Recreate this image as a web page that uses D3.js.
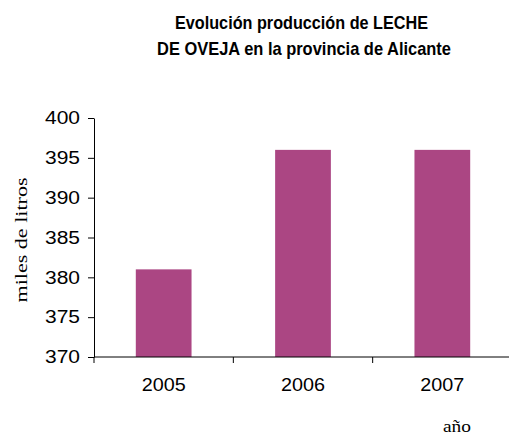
<!DOCTYPE html>
<html>
<head>
<meta charset="utf-8">
<script src="https://cdn.jsdelivr.net/npm/d3@7"></script>
<style>
  body { margin: 0; background: #fff; }
  svg { display: block; }
</style>
</head>
<body>
<div id="chart"></div>
<script>
// data
var years = ["2005", "2006", "2007"];
var litros = [381, 396, 396];
var yTicks = [370, 375, 380, 385, 390, 395, 400];

var margin = {top: 118, right: 0, bottom: 80, left: 94},
    width = 512 - margin.left - margin.right,
    height = 437 - margin.top - margin.bottom;

var svg = d3.select("#chart")
  .append("svg")
    .attr("width", 509)
    .attr("height", 437);

var g = svg.append("g")
    .attr("transform", "translate(" + margin.left + "," + margin.top + ")");

var x = d3.scaleBand()
  .domain(years)
  .range([0, width])
  .paddingInner(0.6)
  .paddingOuter(0.3);

var y = d3.scaleLinear()
  .domain([370, 400])
  .range([239, 0]);

// bars
g.selectAll("rect")
  .data(years)
  .enter()
  .append("rect")
    .attr("x", function(d) { return x(d); })
    .attr("y", function(d, i) { return y(litros[i]); })
    .attr("width", x.bandwidth())
    .attr("height", function(d, i) { return y(370) - y(litros[i]); })
    .style("fill", "#ab4683");

// y axis
var yAxis = g.append("g")
  .call(d3.axisLeft(y).tickValues(yTicks).tickSize(6).tickPadding(8).tickSizeOuter(0));
yAxis.selectAll("text")
  .attr("textLength", 35)
  .attr("lengthAdjust", "spacingAndGlyphs")
  .style("font-family", "Liberation Sans, Arial, sans-serif")
  .style("font-size", "18px")
  .style("fill", "#000");

// x axis
var xPos = d3.scaleLinear().domain([0, 3]).range([0, width]);
var xAxisG = g.append("g")
  .attr("transform", "translate(0," + y(370) + ")");
xAxisG.append("line")
  .attr("x1", 0).attr("x2", width)
  .attr("stroke", "#000");
xAxisG.selectAll(".tk")
  .data([0, 1, 2])
  .enter()
  .append("line")
    .attr("x1", function(d) { return xPos(d); })
    .attr("x2", function(d) { return xPos(d); })
    .attr("y1", 0).attr("y2", 6)
    .attr("stroke", "#000");
xAxisG.selectAll(".lbl")
  .data(years)
  .enter()
  .append("text")
    .attr("x", function(d) { return x(d) + x.bandwidth() / 2; })
    .attr("y", 34)
    .attr("text-anchor", "middle")
    .attr("textLength", 44)
    .attr("lengthAdjust", "spacingAndGlyphs")
    .style("font-family", "Liberation Sans, Arial, sans-serif")
    .style("font-size", "18px")
    .text(function(d) { return d; });

g.selectAll(".domain").attr("stroke", "#000");
g.selectAll(".tick line").attr("stroke", "#000");

// axis titles
svg.append("text")
  .attr("transform", "translate(27,240) rotate(-90)")
  .attr("text-anchor", "middle")
  .attr("textLength", 125)
  .attr("lengthAdjust", "spacingAndGlyphs")
  .style("font-family", "Liberation Serif, Times New Roman, serif")
  .style("font-size", "16px")
  .text("miles de litros");

svg.append("text")
  .attr("x", 457)
  .attr("y", 432)
  .attr("text-anchor", "middle")
  .attr("textLength", 28)
  .attr("lengthAdjust", "spacingAndGlyphs")
  .style("font-family", "Liberation Serif, Times New Roman, serif")
  .style("font-size", "17px")
  .text("año");

// title
var title = svg.append("g")
  .style("font-family", "Liberation Sans Narrow, Arial Narrow, Liberation Sans, sans-serif")
  .style("font-weight", "bold")
  .style("font-size", "19px");
title.append("text").attr("x", 175).attr("y", 29)
  .attr("textLength", 253).attr("lengthAdjust", "spacingAndGlyphs")
  .text("Evolución producción de LECHE");
title.append("text").attr("x", 157).attr("y", 55)
  .attr("textLength", 294).attr("lengthAdjust", "spacingAndGlyphs")
  .text("DE OVEJA en la provincia de Alicante");
</script>
</body>
</html>
